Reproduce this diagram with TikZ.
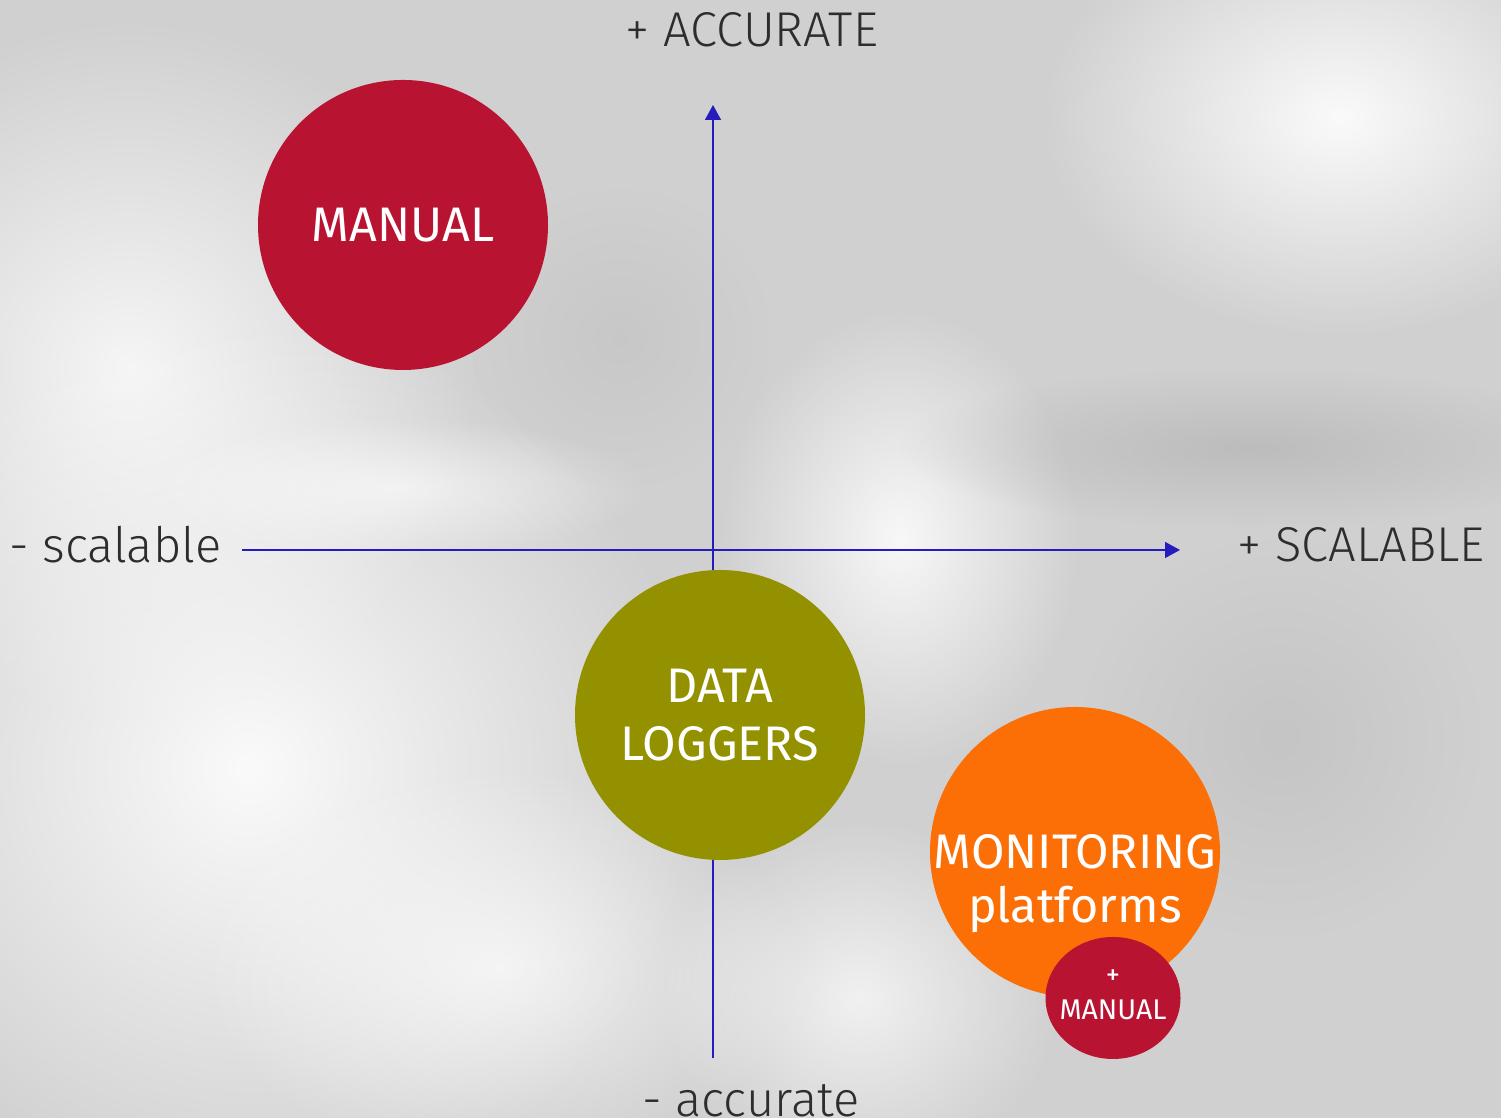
\documentclass[tikz,border=0pt]{standalone}
\usepackage{fontspec}
\setmainfont{Fira Sans}
\newfontfamily\lightfont{Fira Sans Light}
\usepackage{tikz}
\usetikzlibrary{arrows.meta,fadings,positioning,shapes.geometric}

\definecolor{crimson}{RGB}{185,19,50}
\definecolor{loggerolive}{RGB}{147,145,0}
\definecolor{monorange}{RGB}{252,110,6}
\definecolor{axisblue}{RGB}{38,28,188}
\definecolor{labelgray}{RGB}{45,45,45}
\definecolor{bgbase}{RGB}{208,208,208}
\definecolor{bgdark}{RGB}{180,180,180}
\tikzfading[name=softblob, inner color=transparent!0, outer color=transparent!100]

\begin{document}
\begin{tikzpicture}[>={Triangle[length=.15cm,width=.16cm]},
				bigdisc/.style={circle, minimum size=2.9cm, inner sep=0pt, text=white, align=center, font=\fontsize{13.8}{16.3}\selectfont}
				,axislabel/.style={text=labelgray, inner sep=0pt, font=\lightfont\fontsize{13.9}{16}\selectfont}
				,axis/.style={draw=axisblue, line width=.4pt}
				,blob/.style={path fading=softblob}
				]
				\useasboundingbox (0,0) rectangle (15.01,11.18);
				
				% blurred backdrop
				\fill[bgbase] (0,0) rectangle (15.01,11.18);
				\fill[white, blob, fill opacity=.8] (1.3,7.5) circle (3.5);
				\fill[white, blob, fill opacity=.9] (2.5,3.5) circle (4.5);
				\fill[white, blob, fill opacity=.7] (5,1.5) ellipse (3 and 2);
				\fill[white, blob, fill opacity=.7] (8.6,1.2) ellipse (2 and 1.8);
				\fill[white, blob, fill opacity=.9] (13.4,10) ellipse (3 and 2.2);
				\fill[white, blob, fill opacity=.85] (9,5.8) ellipse (1.8 and 2.3);
				\fill[white, blob, fill opacity=.6] (4,6.3) ellipse (2.5 and .7);
				\fill[bgdark, blob, fill opacity=.7] (12.5,6.7) ellipse (3.5 and .8);
				\fill[bgdark, blob, fill opacity=.4] (12.8,3.8) circle (2);
				\fill[bgdark, blob, fill opacity=.3] (6.2,7.8) circle (1.5);
				
				\coordinate (xl) at (2.42,5.68);
				\coordinate (xr) at (11.80,5.68);
				\coordinate (yb) at (7.13,0.60);
				\coordinate (yt) at (7.13,10.13);
				
				\draw[axis,->] (xl) -- (xr);
				\draw[axis,->] (yb) -- (yt);
				
				\node[bigdisc, fill=crimson] (c1) at (4.03,8.93) {MANUAL};
				\node[bigdisc, fill=loggerolive] (c2) at (7.20,4.03) {DATA\\LOGGERS};
				\node[bigdisc, fill=monorange, label={[text=white, align=center, font=\fontsize{13.8}{15.3}\selectfont, yshift=-.32cm]center:{MONITORING\\platforms}}] (c3) at (10.75,2.66) {};
				\node[ellipse, fill=crimson, minimum width=1.35cm, minimum height=1.22cm, inner sep=0pt, label={[text=white, align=center, font=\fontsize{8.1}{10}\selectfont, yshift=.03cm]center:{+\\MANUAL}}] (c4) at (11.13,1.20) {};
				
				\node[axislabel] (l1) at (7.52,10.88) {+ ACCURATE};
				\node[axislabel, left=.2cm of xl, yshift=.05cm] (l2) {- scalable};
				\node[axislabel, right=.57cm of xr, yshift=.05cm] (l3) {+ SCALABLE};
				\node[axislabel, anchor=base] (l4) at (7.51,0.01) {- accurate};
			\end{tikzpicture}
\end{document}
